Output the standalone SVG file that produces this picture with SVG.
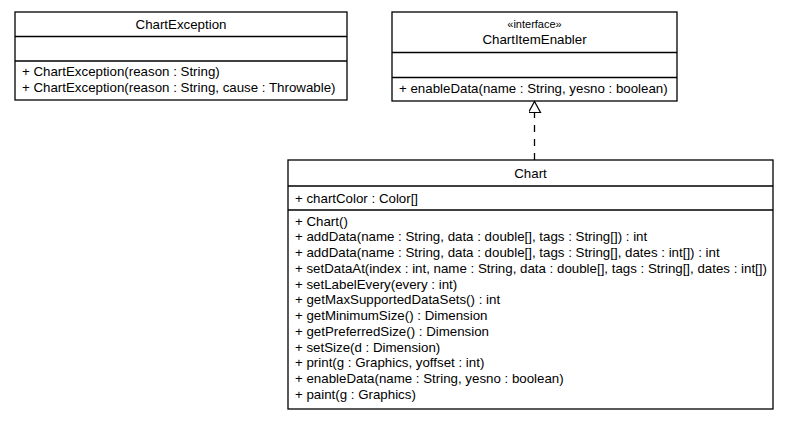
<svg xmlns="http://www.w3.org/2000/svg" width="797" height="421" viewBox="0 0 797 421">
<style>
.box{fill:#fff;stroke:#000;stroke-width:1.3}
.sep{stroke:#000;stroke-width:1.3}
text{font-family:"Liberation Sans",Arial,Helvetica,sans-serif;font-size:13.3px;fill:#000}
.c{text-anchor:middle}
.conn{stroke:#000;stroke-width:1.3;fill:none}
</style>
<defs>
<marker id="realize" viewBox="0 0 12 16" refX="11" refY="6" markerWidth="16" markerHeight="16" orient="auto" markerUnits="userSpaceOnUse">
<path d="M0,0 L11,6 L0,12 Z" fill="#fff" stroke="#000" stroke-width="1.2"/>
</marker>
</defs>
<rect width="797" height="421" fill="#fff"/>
<g id="ChartException">
<rect class="box" x="15" y="12" width="332" height="88"/>
<line class="sep" x1="15" y1="36.5" x2="347" y2="36.5"/>
<line class="sep" x1="15" y1="61" x2="347" y2="61"/>
<text class="c" x="181" y="29">ChartException</text>
<text x="22" y="76">+ ChartException(reason : String)</text>
<text x="22" y="92">+ ChartException(reason : String, cause : Throwable)</text>
</g>
<g id="ChartItemEnabler">
<rect class="box" x="392" y="12" width="285" height="89"/>
<line class="sep" x1="392" y1="52.5" x2="677" y2="52.5"/>
<line class="sep" x1="392" y1="77.5" x2="677" y2="77.5"/>
<text class="c" x="534.5" y="28" style="font-size:11px">«interface»</text>
<text class="c" x="534.5" y="44">ChartItemEnabler</text>
<text x="399" y="93">+ enableData(name : String, yesno : boolean)</text>
</g>
<g id="Chart">
<rect class="box" x="288" y="160" width="485" height="249"/>
<line class="sep" x1="288" y1="186" x2="773" y2="186"/>
<line class="sep" x1="288" y1="210" x2="773" y2="210"/>
<text class="c" x="530.5" y="178">Chart</text>
<text x="295" y="203">+ chartColor : Color[]</text>
<text x="295" y="225.5">+ Chart()</text>
<text x="295" y="241.25">+ addData(name : String, data : double[], tags : String[]) : int</text>
<text x="295" y="257">+ addData(name : String, data : double[], tags : String[], dates : int[]) : int</text>
<text x="295" y="272.75">+ setDataAt(index : int, name : String, data : double[], tags : String[], dates : int[])</text>
<text x="295" y="288.5">+ setLabelEvery(every : int)</text>
<text x="295" y="304.25">+ getMaxSupportedDataSets() : int</text>
<text x="295" y="320">+ getMinimumSize() : Dimension</text>
<text x="295" y="335.75">+ getPreferredSize() : Dimension</text>
<text x="295" y="351.5">+ setSize(d : Dimension)</text>
<text x="295" y="367.25">+ print(g : Graphics, yoffset : int)</text>
<text x="295" y="383">+ enableData(name : String, yesno : boolean)</text>
<text x="295" y="398.75">+ paint(g : Graphics)</text>
</g>
<g id="connectors">
<line class="conn" x1="534.5" y1="160" x2="534.5" y2="101.5" stroke-dasharray="7,7" marker-end="url(#realize)"/>
</g>
</svg>
